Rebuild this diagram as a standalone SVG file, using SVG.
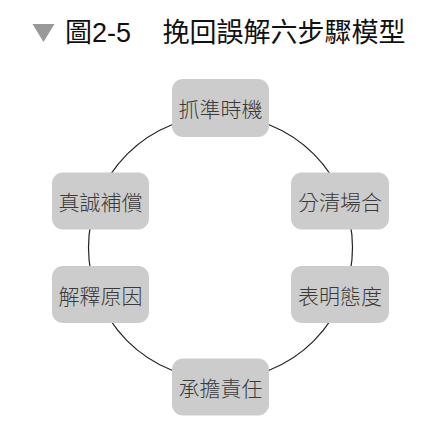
<svg xmlns="http://www.w3.org/2000/svg" width="438" height="439" viewBox="0 0 438 439">
<style>
.node rect{fill:#cccccc;}
.node text{font-family:"Noto Sans CJK TC","Noto Sans CJK SC",sans-serif;font-size:21px;font-weight:300;fill:#3a3a3a;text-anchor:middle;dominant-baseline:central;}
.title{font-family:"Liberation Sans","Noto Sans CJK TC",sans-serif;font-size:27px;fill:#111;}
</style>
<rect width="438" height="439" fill="#ffffff"/>
<g id="title">
<polygon points="32.5,24 54.5,24 43.5,42" fill="#999999"/>
<text class="title" x="65" y="42" font-family="Noto Sans CJK TC, sans-serif">圖<tspan font-family="Liberation Sans, sans-serif">2-5</tspan></text>
<text class="title" x="162.5" y="42" font-family="Noto Sans CJK TC, sans-serif">挽回誤解六步驟模型</text>
</g>
<g id="connectors">
<circle cx="220.5" cy="247.5" r="132" fill="none" stroke="#222222" stroke-width="1.2"/>
</g>
<g id="n1" class="node"><rect x="172" y="79" width="97" height="58" rx="11"/><text x="220.5" y="108">抓準時機</text></g>
<g id="n2" class="node"><rect x="291" y="172.5" width="98" height="57" rx="11"/><text x="340" y="201">分清場合</text></g>
<g id="n3" class="node"><rect x="291" y="266" width="98" height="57" rx="11"/><text x="340" y="294.5">表明態度</text></g>
<g id="n4" class="node"><rect x="172" y="358.5" width="97" height="57" rx="11"/><text x="220.5" y="387">承擔責任</text></g>
<g id="n5" class="node"><rect x="52" y="266" width="97" height="57" rx="11"/><text x="100.5" y="294.5">解釋原因</text></g>
<g id="n6" class="node"><rect x="52" y="172.5" width="97" height="57" rx="11"/><text x="100.5" y="201">真誠補償</text></g>
</svg>
